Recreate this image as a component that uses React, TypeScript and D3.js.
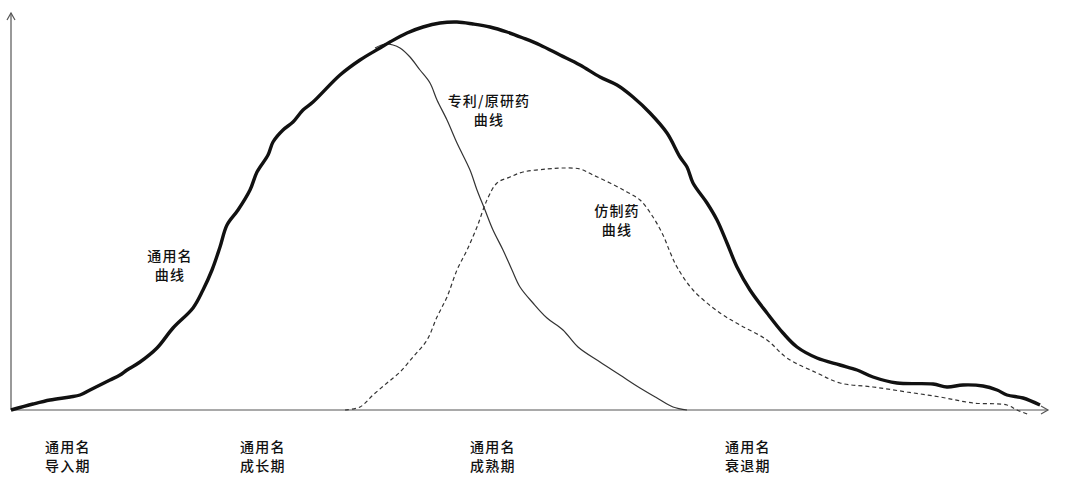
import React, { useEffect } from "react";
import * as d3 from "d3";

// Values (time units along x, level along y)
const genericCurve: [number, number][] = [
  [0, 0], [22, 6], [39, 10], [59, 13], [69, 15], [79, 20], [89, 25], [99, 30], [109, 35], [116, 40],
  [129, 48], [146, 62], [162, 82], [182, 102], [192, 120], [201, 140], [209, 163], [216, 185],
  [227, 200], [239, 220], [246, 238], [257, 255], [262, 268], [272, 280], [282, 288], [292, 300],
  [302, 308], [329, 335], [349, 350], [369, 362], [379, 368], [396, 377], [412, 383], [429, 387],
  [446, 388], [462, 386], [479, 383], [496, 378], [512, 372], [529, 365], [549, 355], [569, 345],
  [589, 333], [606, 325], [622, 313], [639, 297], [656, 277], [669, 253], [676, 243], [682, 227],
  [696, 207], [706, 190], [716, 167], [726, 143], [739, 120], [756, 97], [772, 77], [786, 63],
  [806, 52], [829, 45], [846, 40], [862, 33], [886, 27], [922, 26], [936, 23], [952, 25], [972, 24],
  [986, 20], [996, 15], [1012, 12], [1029, 5],
];

const patentCurve: [number, number][] = [
  [364, 362], [374, 366], [382, 365], [389, 362], [399, 353], [409, 340], [419, 327], [426, 310],
  [436, 290], [446, 267], [459, 240], [466, 220], [474, 200], [482, 180], [492, 160], [501, 140],
  [509, 123], [522, 107], [536, 92], [552, 80], [567, 63], [589, 48], [609, 35], [629, 22],
  [646, 12], [662, 3], [676, 0],
];

const copyCurve: [number, number][] = [
  [334, 0], [349, 3], [362, 15], [376, 27], [389, 38], [402, 53], [416, 70], [426, 93], [436, 113],
  [446, 140], [456, 160], [466, 183], [476, 210], [486, 227], [499, 233], [512, 238], [536, 241],
  [552, 242], [569, 241], [582, 235], [599, 227], [616, 218], [629, 210], [642, 193], [652, 175],
  [659, 158], [666, 143], [682, 120], [709, 97], [729, 85], [756, 70], [776, 52], [806, 37],
  [829, 27], [862, 23], [896, 18], [929, 13], [962, 7], [996, 5], [1006, 0], [1019, -5],
];

const stageLabels = [
  { t: 34, lines: ["通用名", "导入期"] },
  { t: 229, lines: ["通用名", "成长期"] },
  { t: 459, lines: ["通用名", "成熟期"] },
  { t: 714, lines: ["通用名", "衰退期"] },
];

const curveLabels = [
  { t: 159, v: 150, lines: ["通用名", "曲线"] },
  { t: 478, v: 305, lines: ["专利/原研药", "曲线"] },
  { t: 606, v: 195, lines: ["仿制药", "曲线"] },
];

const W = 1080;
const H = 483;

export default function App() {
  useEffect(() => {
    document.body.style.margin = "0";
  }, []);

  const x = d3.scaleLinear().domain([0, 1037]).range([11, 1048]);
  const y = d3.scaleLinear().domain([0, 400]).range([410, 10]);

  const line = d3
    .line<[number, number]>()
    .x((d) => x(d[0]))
    .y((d) => y(d[1]))
    .curve(d3.curveCatmullRom.alpha(0.5));

  const font = "'Noto Sans CJK SC', 'Noto Sans', sans-serif";
  const x0 = x(0);
  const y0 = y(0);
  const yTop = y(397);
  const xEnd = x(1037);

  const textProps = {
    fontFamily: font,
    fontSize: 14,
    fontWeight: 500,
    fill: "#111",
    letterSpacing: 1.2,
    dominantBaseline: "central" as const,
  };

  return (
    <svg width={W} height={H} style={{ display: "block", background: "#fff" }}>
      {/* axes */}
      <g stroke="#555" strokeWidth={1.2} fill="none">
        <line x1={x0} y1={y0} x2={x0} y2={yTop} />
        <line x1={x0} y1={y0} x2={xEnd} y2={y0} />
        <polyline points={`${x0 - 4},${yTop + 7} ${x0},${yTop} ${x0 + 4},${yTop + 7}`} />
        <polyline points={`${xEnd - 7},${y0 - 4} ${xEnd},${y0} ${xEnd - 7},${y0 + 4}`} />
      </g>

      {/* curves */}
      <path d={line(copyCurve) || ""} fill="none" stroke="#333" strokeWidth={1.2} strokeDasharray="4,3" />
      <path d={line(patentCurve) || ""} fill="none" stroke="#333" strokeWidth={1.2} />
      <path d={line(genericCurve) || ""} fill="none" stroke="#111" strokeWidth={3.4} strokeLinejoin="round" />

      {/* curve labels */}
      {curveLabels.map((l, i) =>
        l.lines.map((s, j) => (
          <text key={`c${i}-${j}`} x={x(l.t)} y={y(l.v) - 5 + j * 19} textAnchor="middle" {...textProps}>
            {s}
          </text>
        ))
      )}

      {/* stage labels */}
      {stageLabels.map((l, i) =>
        l.lines.map((s, j) => (
          <text key={`s${i}-${j}`} x={x(l.t)} y={446 + j * 18.5} {...textProps}>
            {s}
          </text>
        ))
      )}
    </svg>
  );
}
